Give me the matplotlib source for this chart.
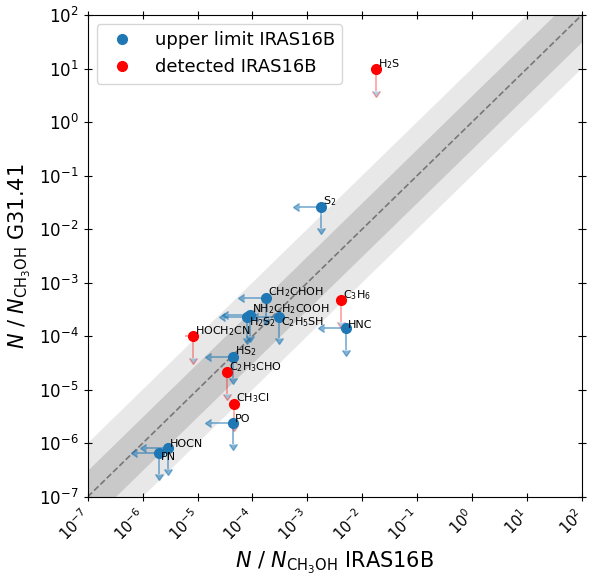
import numpy as np
import matplotlib
matplotlib.use('Agg')
import matplotlib.pyplot as plt
import matplotlib.transforms as mtrans

# upper limits in IRAS16B (and G31.41)
names_ul = ['S$_2$', 'CH$_2$CHOH', 'NH$_2$CH$_2$COOH', 'H$_2$S$_2$', 'C$_2$H$_5$SH',
            'HNC', 'HS$_2$', 'PO', 'HOCN', 'PN']
x_ul = [1.8e-3, 1.75e-4, 8.9e-5, 7.9e-5, 3.1e-4, 5.0e-3, 4.4e-5, 4.4e-5, 2.9e-6, 2.0e-6]
y_ul = [2.6e-2, 5.2e-4, 2.5e-4, 2.3e-4, 2.3e-4, 1.4e-4, 4.1e-5, 2.4e-6, 8.2e-7, 6.6e-7]

# detected in IRAS16B, upper limits in G31.41
names_det = ['H$_2$S', 'C$_3$H$_6$', 'HOCH$_2$CN', 'C$_2$H$_3$CHO', 'CH$_3$Cl']
x_det = [1.8e-2, 4.1e-3, 8.2e-6, 3.4e-5, 4.6e-5]
x_det_err = [2.5e-3, 5e-4, 2.2e-6, 4e-6, 6e-6]
y_det = [9.7, 4.7e-4, 1.0e-4, 2.1e-5, 5.4e-6]

# labels placed below the point
below = ['H$_2$S$_2$', 'C$_2$H$_5$SH', 'PN']

fig = plt.figure(figsize=(5.93, 5.81), dpi=100)
ax = fig.add_axes([0.148, 0.145, 0.833, 0.829])

lim = (1e-7, 1e2)
xx = np.logspace(-7, 2, 200)
ax.fill_between(xx, xx/10, xx*10, color='#e8e8e8', lw=0, zorder=0)
ax.fill_between(xx, xx/10**0.5, xx*10**0.5, color='#c9c9c9', lw=0, zorder=0)
ax.plot(xx, xx, ls='--', color='#777777', lw=1.2, zorder=1)

# arrows
xu = np.array(x_ul); yu = np.array(y_ul)
ax.errorbar(xu, yu, xerr=0.6*xu, yerr=0.6*yu, xuplims=True, uplims=True,
            fmt='none', ecolor='#1f77b4', alpha=0.55, lw=1.3, zorder=2)
xd = np.array(x_det); yd = np.array(y_det)
ax.errorbar(xd, yd, yerr=0.6*yd, uplims=True, fmt='none', ecolor='red',
            alpha=0.35, lw=1.3, zorder=2)
ax.errorbar(xd, yd, xerr=x_det_err, fmt='none', ecolor='red', alpha=0.35,
            lw=1.3, zorder=2)

ax.plot(x_ul, y_ul, 'o', color='#1f77b4', ms=7, ls='none', zorder=3,
        label='upper limit IRAS16B')
ax.plot(x_det, y_det, 'o', color='red', ms=7, ls='none', zorder=3,
        label='detected IRAS16B')

for n, x, y in zip(names_ul + names_det, x_ul + x_det, y_ul + y_det):
    if n in below:
        ax.annotate(n, (x, y), xytext=(1.5, 1), textcoords='offset points',
                    ha='left', va='top', fontsize=8, zorder=4)
    else:
        ax.annotate(n, (x, y), xytext=(1.5, -1), textcoords='offset points',
                    ha='left', va='bottom', fontsize=8, zorder=4)

ax.set_xscale('log')
ax.set_yscale('log')
ax.set_xlim(lim)
ax.set_ylim(lim)
ax.set_xticks(10.0**np.arange(-7, 3))
ax.set_yticks(10.0**np.arange(-7, 3))
ax.tick_params(which='both', top=True, right=True, direction='in', labelsize=12)
ax.tick_params(which='major', direction='inout', length=6)
ax.tick_params(axis='x', labelsize=10.5)
shift = mtrans.ScaledTranslation(4/72, 0, fig.dpi_scale_trans)
for lab in ax.get_xticklabels():
    lab.set_rotation(45)
    lab.set_ha('right')
    lab.set_transform(lab.get_transform() + shift)

ax.set_xlabel(r'$N$ / $N_{\rm CH_3OH}$ IRAS16B', fontsize=15)
ax.set_ylabel(r'$N$ / $N_{\rm CH_3OH}$ G31.41', fontsize=15)
ax.legend(loc='upper left', fontsize=13)

fig.savefig('out.png', dpi=100)
